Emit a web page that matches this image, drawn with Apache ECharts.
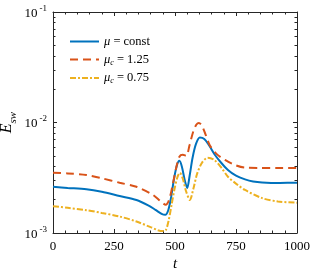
<!DOCTYPE html>
<html><head><meta charset="utf-8">
<script src="https://cdn.jsdelivr.net/npm/echarts@6/dist/echarts.min.js"></script>
<style>html,body{margin:0;padding:0;background:#fff}#c{width:329px;height:274px}</style>
</head><body><div id="c"></div>
<script>
const xTicks = [0, 250, 500, 750, 1000];
const tConst = [0, 60, 137, 200, 273, 342, 390, 420, 445, 460, 472, 484, 496, 508, 518, 528, 540, 550, 560, 572, 586, 602, 620, 640, 664, 690, 717, 750, 787, 820, 857, 930, 1000];
const eConst = [0.00262, 0.00256, 0.00249, 0.00236, 0.00216, 0.00199, 0.00178, 0.00162, 0.00149, 0.00146, 0.0016, 0.0021, 0.0031, 0.0041, 0.0045, 0.0040, 0.0030, 0.00256, 0.0033, 0.0048, 0.0064, 0.0073, 0.0071, 0.0062, 0.00508, 0.0043, 0.00372, 0.0033, 0.00306, 0.00293, 0.00287, 0.00284, 0.00285];
const tHigh = [0, 60, 137, 200, 273, 342, 410, 443, 462, 476, 490, 505, 518, 532, 546, 560, 575, 588, 598, 610, 625, 643, 670, 705, 746, 787, 850, 920, 1000];
const eHigh = [0.00351, 0.00346, 0.00335, 0.00313, 0.00285, 0.00262, 0.00221, 0.00192, 0.00180, 0.0020, 0.0027, 0.0039, 0.0049, 0.0051, 0.0050, 0.0063, 0.0083, 0.0096, 0.0099, 0.0094, 0.0078, 0.0062, 0.0052, 0.00458, 0.00412, 0.0039, 0.00388, 0.00388, 0.00388];
const tLow = [0, 60, 137, 200, 273, 342, 400, 430, 448, 462, 474, 486, 498, 510, 520, 532, 545, 561, 575, 590, 610, 634, 660, 690, 717, 750, 787, 857, 922, 1000];
const eLow = [0.00175, 0.00169, 0.00161, 0.00152, 0.00141, 0.00127, 0.00113, 0.00106, 0.00104, 0.00106, 0.0013, 0.0018, 0.0025, 0.0032, 0.0035, 0.0031, 0.0024, 0.00199, 0.0025, 0.0034, 0.0043, 0.0048, 0.0046, 0.0039, 0.00323, 0.0028, 0.00245, 0.00207, 0.00193, 0.00188];
const names = ['const', 'high', 'low'];

const zip = (t, e) => t.map((v, i) => [v, e[i]]);
const axisColor = '#262626';
const font = 'Liberation Serif';
const chart = echarts.init(document.getElementById('c'));
const legendText = {
  const: '{i|μ}{t| = const}',
  high: '{i|μ}{sub|c}{t| = 1.25}',
  low: '{i|μ}{sub|c}{t| = 0.75}'
};
const baseX = {
  type: 'value', min: 0, max: 1000, interval: 250,
  axisLine: {show: true, onZero: false, lineStyle: {color: axisColor, width: 1}},
  axisTick: {show: true, inside: true, length: 4, lineStyle: {color: axisColor}},
  minorTick: {show: true, splitNumber: 5, length: 2.5, lineStyle: {color: axisColor}},
  splitLine: {show: false}
};
const baseY = {
  type: 'log', logBase: 10, min: 0.001, max: 0.1,
  axisLine: {show: true, onZero: false, lineStyle: {color: axisColor, width: 1}},
  axisTick: {show: true, inside: true, length: 4, lineStyle: {color: axisColor}},
  minorTick: {show: true, splitNumber: 9, length: 2.5, lineStyle: {color: axisColor}},
  splitLine: {show: false}
};
chart.setOption({
  animation: false,
  grid: {left: 53, right: 32, top: 12, bottom: 41, containLabel: false, outerBoundsMode: 'none'},
  xAxis: [
    Object.assign({}, baseX, {
      position: 'bottom',
      name: 't', nameLocation: 'middle', nameGap: 24, nameMoveOverlap: false,
      nameTextStyle: {fontFamily: font, fontStyle: 'italic', fontSize: 15, color: '#000'},
      axisLabel: {fontFamily: font, fontSize: 13, color: '#000', margin: 7, formatter: v => String(v)}
    }),
    Object.assign({}, baseX, {position: 'top', axisLabel: {show: false}})
  ],
  yAxis: [
    Object.assign({}, baseY, {
      position: 'left',
      name: '{e|E}{s|sw}', nameLocation: 'middle', nameGap: 34, nameRotate: 90, nameMoveOverlap: false,
      nameTextStyle: {
        rich: {
          e: {fontFamily: font, fontStyle: 'italic', fontSize: 16, color: '#000', verticalAlign: 'top', lineHeight: 20},
          s: {fontFamily: font, fontStyle: 'italic', fontSize: 11, color: '#000', verticalAlign: 'bottom'}
        }
      },
      axisLabel: {
        margin: 6,
        formatter: v => '{b|10}{s|' + Math.round(Math.log10(v)) + '}',
        rich: {
          b: {fontFamily: font, fontSize: 13, color: '#000', verticalAlign: 'bottom', lineHeight: 16},
          s: {fontFamily: font, fontSize: 9, color: '#000', verticalAlign: 'top', lineHeight: 10, padding: [0, 0, 0, 2]}
        }
      }
    }),
    Object.assign({}, baseY, {position: 'right', axisLabel: {show: false}})
  ],
  legend: {
    orient: 'vertical', left: 64, top: 30, itemWidth: 29, itemHeight: 8, itemGap: 5,
    itemStyle: {opacity: 0},
    data: names,
    formatter: n => legendText[n],
    textStyle: {
      rich: {
        i: {fontFamily: font, fontStyle: 'italic', fontSize: 12.5, color: '#000'},
        sub: {fontFamily: font, fontStyle: 'italic', fontSize: 8, color: '#000', verticalAlign: 'bottom', padding: [6, 0, 0, 0]},
        t: {fontFamily: font, fontSize: 12.5, color: '#000'}
      }
    }
  },
  series: [
    {name: 'const', type: 'line', data: zip(tConst, eConst), smooth: 0.3, symbol: 'none',
     lineStyle: {color: '#0072BD', width: 2}, itemStyle: {color: '#0072BD'}},
    {name: 'high', type: 'line', data: zip(tHigh, eHigh), smooth: 0.3, symbol: 'none',
     lineStyle: {color: '#D95319', width: 2, type: [8, 5]}, itemStyle: {color: '#D95319'}},
    {name: 'low', type: 'line', data: zip(tLow, eLow), smooth: 0.3, symbol: 'none',
     lineStyle: {color: '#EDB120', width: 2, type: [6, 2, 2, 2]}, itemStyle: {color: '#EDB120'}}
  ]
});
</script></body></html>
